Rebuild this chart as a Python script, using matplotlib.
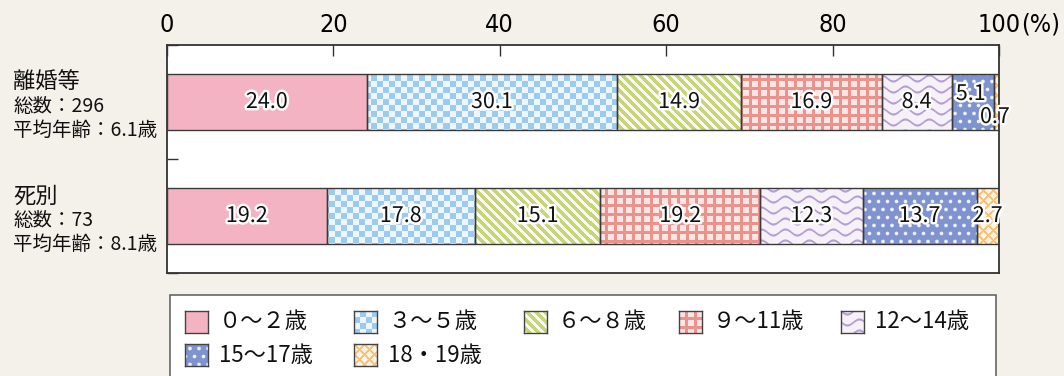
import numpy as np
import matplotlib
matplotlib.use("Agg")
import matplotlib.pyplot as plt
import matplotlib.patheffects as pe
from matplotlib.patches import Rectangle

plt.rcParams['font.family'] = ['Noto Sans CJK JP', 'DejaVu Sans']

# ---------------- data ----------------
categories = ['離婚等', '死別']
totals = [296, 73]
mean_ages = [6.1, 8.1]
age_groups = ['０〜２歳', '３〜５歳', '６〜８歳', '９〜11歳', '12〜14歳', '15〜17歳', '18・19歳']
divorce = [24.0, 30.1, 14.9, 16.9, 8.4, 5.1, 0.7]
bereaved = [19.2, 17.8, 15.1, 19.2, 12.3, 13.7, 2.7]
xticks = [0, 20, 40, 60, 80, 100]
series = [divorce, bereaved]

# ---------------- figure ----------------
W_PX, H_PX = 1064, 376
BG = '#f4f1ea'
fig = plt.figure(figsize=(W_PX / 100, H_PX / 100), dpi=100, facecolor=BG)
AX_L, AX_T, AX_W, AX_H = 167, 45, 832, 228
ax = fig.add_axes([AX_L / W_PX, 1 - (AX_T + AX_H) / H_PX, AX_W / W_PX, AX_H / H_PX])
ax.set_facecolor('white')


def hexrgb(h):
    h = h.lstrip('#')
    return np.array([int(h[i:i + 2], 16) / 255 for i in (0, 2, 4)])


def mix(a, b, t):
    t = np.clip(t, 0, 1)[..., None]
    return a * (1 - t) + b * t


def texture(kind, w, h):
    Y, X = np.mgrid[0:h, 0:w].astype(float)
    if kind == 0:
        c = hexrgb('#f4b3c2')
        return np.ones((h, w, 3)) * c
    if kind == 1:  # checker
        s = 6
        m = ((X // s + Y // s) % 2).astype(float)
        return mix(hexrgb('#eef6fd'), hexrgb('#9ccbee'), m)
    if kind == 2:  # diagonal stripes "\"
        p = 9
        d = (X - Y) % p
        m = (d < 4.5).astype(float)
        return mix(hexrgb('#fbfcf0'), hexrgb('#c6d57c'), m)
    if kind == 3:  # grid
        p = 9
        m = ((X % p) < 6) & ((Y % p) < 6)
        return mix(hexrgb('#ea938d'), hexrgb('#fde5e3'), m.astype(float))
    if kind == 4:  # waves
        P, V, A = 24.0, 11.0, 3.0
        yy = Y - A * np.sin(2 * np.pi * X / P)
        dist = np.abs((yy + V / 2) % V - V / 2)
        m = np.clip(1.6 - dist, 0, 1)
        return mix(hexrgb('#f6f1f9'), hexrgb('#b6a0d2'), m)
    if kind == 5:  # dots
        px, py = 9.0, 8.0
        row = np.floor(Y / py)
        xo = (X + (row % 2) * px / 2) % px - px / 2
        yo = Y % py - py / 2
        r = np.sqrt(xo ** 2 + yo ** 2)
        m = np.clip(2.3 - r, 0, 1)
        return mix(hexrgb('#7f93cf'), hexrgb('#eef1fa'), m)
    if kind == 6:  # diamond lattice
        p = 10
        d1 = np.abs((X + Y) % p - p / 2)
        d2 = np.abs((X - Y) % p - p / 2)
        m = np.clip(np.maximum(d1, d2) - 3.2, 0, 1)
        return mix(hexrgb('#fff3e2'), hexrgb('#f9bd72'), m)


YMIN, YMAX = -0.5, 1.5
BAR_H = 0.49
EDGE = '#3a3a3a'
stroke = [pe.withStroke(linewidth=3.5, foreground='white')]

# label offsets in pixels for tiny segments (layout only)
label_offsets = {(0, 5): (-2, 8), (0, 6): (-2, -15)}

for r, vals in enumerate(series):
    lefts = np.concatenate([[0], np.cumsum(vals)[:-1]])
    bars = ax.barh([r] * len(vals), vals, left=lefts, height=BAR_H,
                   facecolor='none', edgecolor=EDGE, linewidth=1.0, zorder=3)
    for k, (rect, v, l) in enumerate(zip(bars.patches, vals, lefts)):
        im = ax.imshow(texture(k, AX_W, AX_H), extent=(0, 100, YMAX, YMIN),
                       aspect='auto', interpolation='nearest', zorder=2)
        im.set_clip_path(rect)
        dx, dy = label_offsets.get((r, k), (0, 0))
        ax.annotate(f'{v:.1f}', xy=(l + v / 2, r), xytext=(dx, dy),
                    textcoords='offset pixels', ha='center', va='center',
                    fontsize=15.5, color='#111111', path_effects=stroke,
                    zorder=5, annotation_clip=False)

ax.set_xlim(0, 100)
ax.set_ylim(YMAX, YMIN)

TICKFONT = dict(family=['DejaVu Sans'], stretch='condensed')
# ticks
ax.xaxis.tick_top()
ax.set_xticks(xticks)
ax.set_xticklabels([str(t) for t in xticks], fontsize=18, **TICKFONT)
ax.tick_params(axis='x', direction='in', length=8, width=1.0, color='#333333',
               pad=6, top=True, bottom=False)
ax.set_yticks([-0.5, 0.5, 1.5])
ax.set_yticklabels([])
ax.tick_params(axis='y', direction='in', length=8, width=1.0, color='#333333')
for s in ax.spines.values():
    s.set_color('#333333')
    s.set_linewidth(1.3)

ax.annotate('(%)', xy=(100, 1), xycoords=('data', 'axes fraction'),
            xytext=(22, 8.3), textcoords='offset pixels', ha='left', va='bottom',
            fontsize=18, **TICKFONT)

# category labels
for r, cat in enumerate(categories):
    lines = [(cat, 16, 20), (f'総数：{totals[r]}', 14, -4.5),
             (f'平均年齢：{mean_ages[r]}歳', 14, -28)]
    for txt, fs, off in lines:
        ax.annotate(txt, xy=(13 / W_PX, r), xycoords=('figure fraction', 'data'),
                    xytext=(0, off), textcoords='offset pixels', ha='left', va='center',
                    fontsize=fs, color='#111111', annotation_clip=False)

# legend (manual)
fig.patches.append(Rectangle((170 / W_PX, -0.1), (996 - 170) / W_PX, 0.1 + 1 - 295 / H_PX,
                             transform=fig.transFigure, facecolor='white',
                             edgecolor='#666666', linewidth=1.2, zorder=-5))
sw_x = [185, 354, 524, 679, 841, 185, 354]
sw_y = [311, 311, 311, 311, 311, 344, 344]
SW_W, SW_H = 23, 22
for k, lab in enumerate(age_groups):
    x, y = sw_x[k], sw_y[k]
    sax = fig.add_axes([x / W_PX, 1 - (y + SW_H) / H_PX, SW_W / W_PX, SW_H / H_PX])
    sax.set_zorder(5)
    sax.imshow(texture(k, SW_W, SW_H), aspect='auto', interpolation='nearest')
    sax.set_xticks([])
    sax.set_yticks([])
    for s in sax.spines.values():
        s.set_color('#444444')
        s.set_linewidth(1.0)
    fig.text((x + 34) / W_PX, 1 - (y + SW_H / 2) / H_PX, lab, ha='left', va='center',
             fontsize=16, color='#111111')

fig.savefig('out.png', dpi=100, facecolor=BG)
